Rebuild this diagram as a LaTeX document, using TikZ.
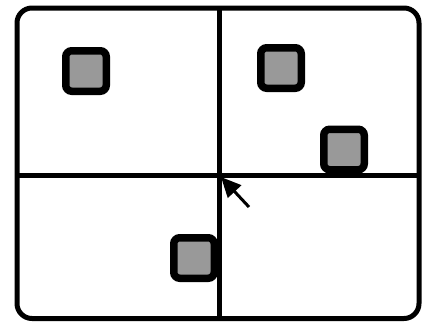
\documentclass[tikz,border=0pt]{standalone}
\usetikzlibrary{arrows.meta}
\definecolor{boxgray}{HTML}{999999}
\tikzset{
  frame/.style={line width=5pt, rounded corners=15pt},
  divider/.style={line width=4.5pt},
  item/.style={draw, fill=boxgray, line width=7.5pt, rounded corners=6pt, minimum size=40.5pt, inner sep=0pt},
  pointer/.style={line width=3pt, -{Triangle[length=20pt,width=18pt]}}
}
\begin{document}
\begin{tikzpicture}[x=1pt,y=-1pt]
\useasboundingbox (0,0) rectangle (424,322);
\draw[frame] (17,8) rectangle (419,318.5);
\coordinate (top) at (219.5,8);
\coordinate (bottom) at (219.5,318.5);
\coordinate (left) at (17,175.5);
\coordinate (right) at (419,175.5);
\draw[divider] (top) -- (bottom);
\draw[divider] (left) -- (right);
\node[item] (a) at (86,71) {};
\node[item] (b) at (281,68) {};
\node[item] (c) at (344,149.5) {};
\node[item] (d) at (194,258) {};
\coordinate (tail) at (249,207);
\coordinate (tip) at (221,177);
\draw[pointer] (tail) -- (tip);
\end{tikzpicture}
\end{document}
